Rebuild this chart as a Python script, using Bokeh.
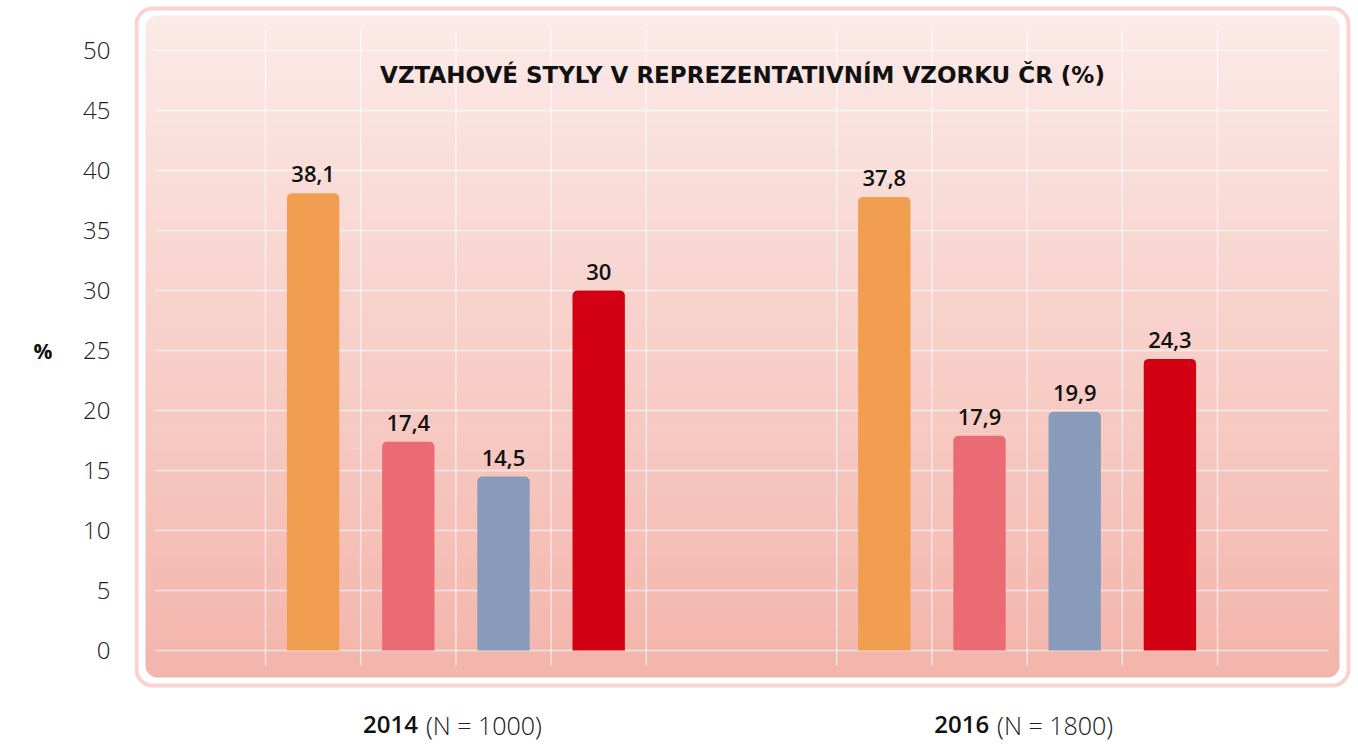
from bokeh.plotting import figure
from bokeh.models import Range1d, FixedTicker, ColumnDataSource, LinearAxis
from bokeh.core.properties import value
from bokeh.embed import file_html
from bokeh.resources import INLINE

# ---------------- data ----------------
groups = ["2014", "2016"]
group_notes = ["(N = 1000)", "(N = 1800)"]
styles = ["styl 1", "styl 2", "styl 3", "styl 4"]
values_2014 = [38.1, 17.4, 14.5, 30.0]
values_2016 = [37.8, 17.9, 19.9, 24.3]
labels_2014 = ["38,1", "17,4", "14,5", "30"]
labels_2016 = ["37,8", "17,9", "19,9", "24,3"]
colors = ["#f29e50", "#eb6b75", "#899bbb", "#d20012"]
y_ticks = [0, 5, 10, 15, 20, 25, 30, 35, 40, 45, 50]
title_text = "VZTAHOVÉ STYLY V REPREZENTATIVNÍM VZORKU ČR (%)"
y_unit_label = "%"

FONT = "Open Sans"
FONT_SEMI = "'Open Sans SemiBold', 'Open Sans'"
FONT_LIGHT = "'Open Sans Light', 'Open Sans'"

# ---------------- layout helpers (screen px -> data) ----------------
PX_X = 95.2   # px per slot
PX_Y = 12.0   # px per percentage point
X0 = 265.0    # screen x of slot 0
Y0 = 650.0    # screen y of value 0


def sx(px):
    return (px - X0) / PX_X


def sy(py):
    return (Y0 - py) / PX_Y


W, H = 1352, 746
LEFT = 134
p = figure(width=W, height=H, output_backend="svg", toolbar_location=None,
           x_range=Range1d(sx(LEFT), sx(W)),
           y_range=Range1d(sy(H), sy(0)),
           x_axis_location=None, min_border_left=LEFT, min_border_right=0,
           min_border_top=0, min_border_bottom=0)
p.outline_line_color = None
p.grid.visible = False
p.background_fill_color = "white"
p.border_fill_color = "white"

# ---------------- outer rounded border ----------------
p.quad(left=[sx(136)], right=[sx(1348)], top=[sy(8)], bottom=[sy(685)],
       fill_color=None, line_color="#f9d4ce", line_width=4, border_radius=16)

# ---------------- gradient panel ----------------
top_c = (251, 234, 232)
bot_c = (243, 181, 171)
p_top, p_bot = 15.0, 677.0
n = 55
h = (p_bot - p_top) / n
lefts, rights, tops, bottoms, fills = [], [], [], [], []
for k in range(n):
    t = (k + 0.5) / n
    c = tuple(int(round(top_c[j] + (bot_c[j] - top_c[j]) * t)) for j in range(3))
    fills.append("#%02x%02x%02x" % c)
    tops.append(sy(p_top + k * h - (0.6 if k > 0 else 0)))
    bottoms.append(sy(p_top + (k + 1) * h))
    lefts.append(sx(145))
    rights.append(sx(1339))
p.quad(left=lefts[:1], right=rights[:1], top=tops[:1], bottom=bottoms[:1],
       fill_color=fills[0], line_color=None, border_radius=(12, 12, 0, 0))
p.quad(left=lefts[1:-1], right=rights[1:-1], top=tops[1:-1], bottom=bottoms[1:-1],
       fill_color=fills[1:-1], line_color=None)
p.quad(left=lefts[-1:], right=rights[-1:], top=tops[-1:], bottom=bottoms[-1:],
       fill_color=fills[-1], line_color=None, border_radius=(0, 0, 12, 12))

# ---------------- grid lines ----------------
p.segment(x0=[sx(155)] * len(y_ticks), x1=[sx(1328)] * len(y_ticks),
          y0=y_ticks, y1=y_ticks, line_color="white", line_alpha=0.6, line_width=1.5)
vx = [g * 6 + k for g in range(len(groups)) for k in range(len(styles) + 1)]
p.segment(x0=vx, x1=vx, y0=[sy(30)] * len(vx), y1=[sy(665)] * len(vx),
          line_color="white", line_alpha=0.6, line_width=1.5)

# ---------------- bars ----------------
all_vals = [values_2014, values_2016]
all_labels = [labels_2014, labels_2016]
bx, btop, bcol, blab = [], [], [], []
for g in range(len(groups)):
    for i in range(len(styles)):
        bx.append(g * 6 + i + 0.5)
        btop.append(all_vals[g][i])
        bcol.append(colors[i])
        blab.append(all_labels[g][i])
src = ColumnDataSource(dict(x=bx, top=btop, color=bcol, label=blab))
p.vbar(x="x", top="top", bottom=0, width=0.55, fill_color="color", line_color=None,
       border_radius=(5, 5, 0, 0), source=src)
p.text(x="x", y="top", text="label", source=src, y_offset=-11,
       text_align="center", text_baseline="bottom", text_font=value(FONT_SEMI),
       text_font_size="22px", text_color="#111111")

# ---------------- title ----------------
p.text(x=[sx(742)], y=[sy(74)], text=[title_text], text_align="center",
       text_baseline="middle", text_font=value("DejaVu Sans"), text_font_size="23px",
       text_font_style="bold", text_color="#111111")

# ---------------- group labels ----------------
gx = [g * 6 + 2 for g in range(len(groups))]
gy = [sy(724)] * len(groups)
p.text(x=gx, y=gy, text=groups, x_offset=-38, text_align="right",
       text_baseline="middle", text_font=value(FONT_SEMI), text_font_size="24px",
       text_color="#111111")
p.text(x=gx, y=gy, text=group_notes, x_offset=-30, text_align="left",
       text_baseline="middle", text_font=value(FONT_LIGHT), text_font_size="25px",
       text_color="#222222")

# ---------------- y axis ----------------
ax = p.yaxis[0]
ax.ticker = FixedTicker(ticks=y_ticks)
ax.axis_line_color = None
ax.major_tick_line_color = None
ax.minor_tick_line_color = None
ax.major_label_standoff = 18
ax.major_label_text_font = FONT_LIGHT
ax.major_label_text_font_size = "24px"
ax.major_label_text_color = "#222222"

unit_axis = LinearAxis(ticker=FixedTicker(ticks=[25]),
                       major_label_overrides={25: y_unit_label},
                       axis_line_color=None, major_tick_line_color=None,
                       minor_tick_line_color=None, major_label_standoff=22,
                       major_label_text_font=FONT, major_label_text_font_style="bold",
                       major_label_text_font_size="21px",
                       major_label_text_color="#111111")
p.add_layout(unit_axis, "left")

open("out.html", "w").write(file_html(p, INLINE))
